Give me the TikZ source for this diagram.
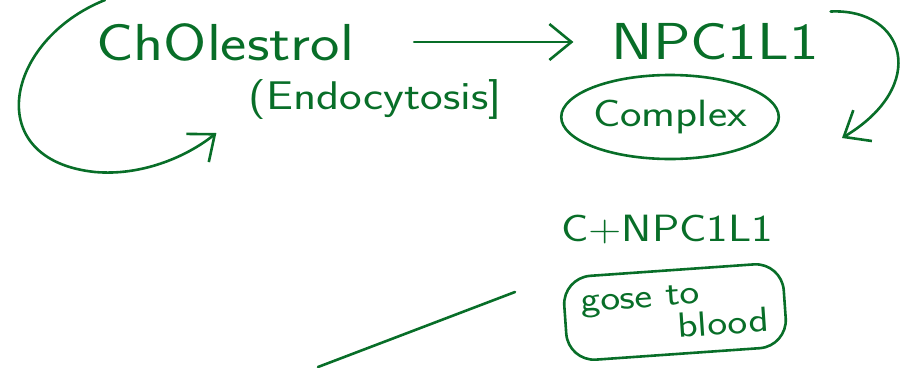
\documentclass[tikz,border=0pt]{standalone}
\usepackage{tikz}
\usetikzlibrary{shapes.geometric, arrows.meta, positioning, calc}
\usepackage{xcolor}
\usepackage{graphicx}
\definecolor{inkgreen}{RGB}{8,110,40}
\newcommand{\wide}[1]{\scalebox{1.2}[1]{#1}}

\begin{document}
\begin{tikzpicture}[
        x=1pt, y=-1pt,
        label/.style={text=inkgreen, font=\sffamily\fontsize{52}{56}\selectfont, inner sep=0pt},
        note/.style={text=inkgreen, font=\sffamily\fontsize{40}{44}\selectfont, inner sep=0pt},
        ring/.style={ellipse, draw=inkgreen, line width=2.6pt, minimum width=210pt, minimum height=84pt, inner sep=0pt, text=inkgreen, font=\sffamily\fontsize{38}{40}\selectfont},
        tag/.style={rectangle, rounded corners=28pt, draw=inkgreen, line width=2.6pt, minimum width=220pt, minimum height=84pt, inner sep=0pt, align=left, text=inkgreen, font=\sffamily\fontsize{35}{31}\selectfont},
        arrow/.style={draw=inkgreen, line width=2.6pt, line cap=round, -{Straight Barb[length=22pt, width=36pt, line width=2.6pt]}},
        stroke/.style={draw=inkgreen, line width=2.6pt, line cap=round}
    ]
        \useasboundingbox (0,0) rectangle (912,367);

        \node [label] (chol) at (225,42) {\wide{ChOlestrol}};
        \node [note] (endo) at (375,100) {\wide{(Endocytosis]}};
        \node [label] (npc) at (715,42) {\wide{NPC1L1}};
        \node [ring] (cplx) at (670,117) {\wide{Complex}};
        \node [note, font=\sffamily\fontsize{38}{40}\selectfont] (cnpc) at (667,230) {\wide{C+NPC1L1}};
        \node [tag, rotate=4] (blood) at (675,312) {\wide{gose to}\\\hspace*{95pt}\wide{blood}};

        \coordinate (loopstart) at (105,0);
        \coordinate (tailA) at (515,292);
        \coordinate (offpage) at (318,367);

        \draw [arrow] ($(chol.east)+(60,0)$) -- ($(npc.west)+(-38,0)$);
        \draw [arrow] ($(npc.north east)+(12,-12)$) .. controls (905,8) and (930,85) .. (842,138);
        \draw [arrow] (loopstart) .. controls (5,40) and (-20,160) .. (95,172) .. controls (140,176) and (185,158) .. ($(endo.west)+(-32,33)$);
        \draw [stroke] (tailA) -- (offpage);
    \end{tikzpicture}
\end{document}
